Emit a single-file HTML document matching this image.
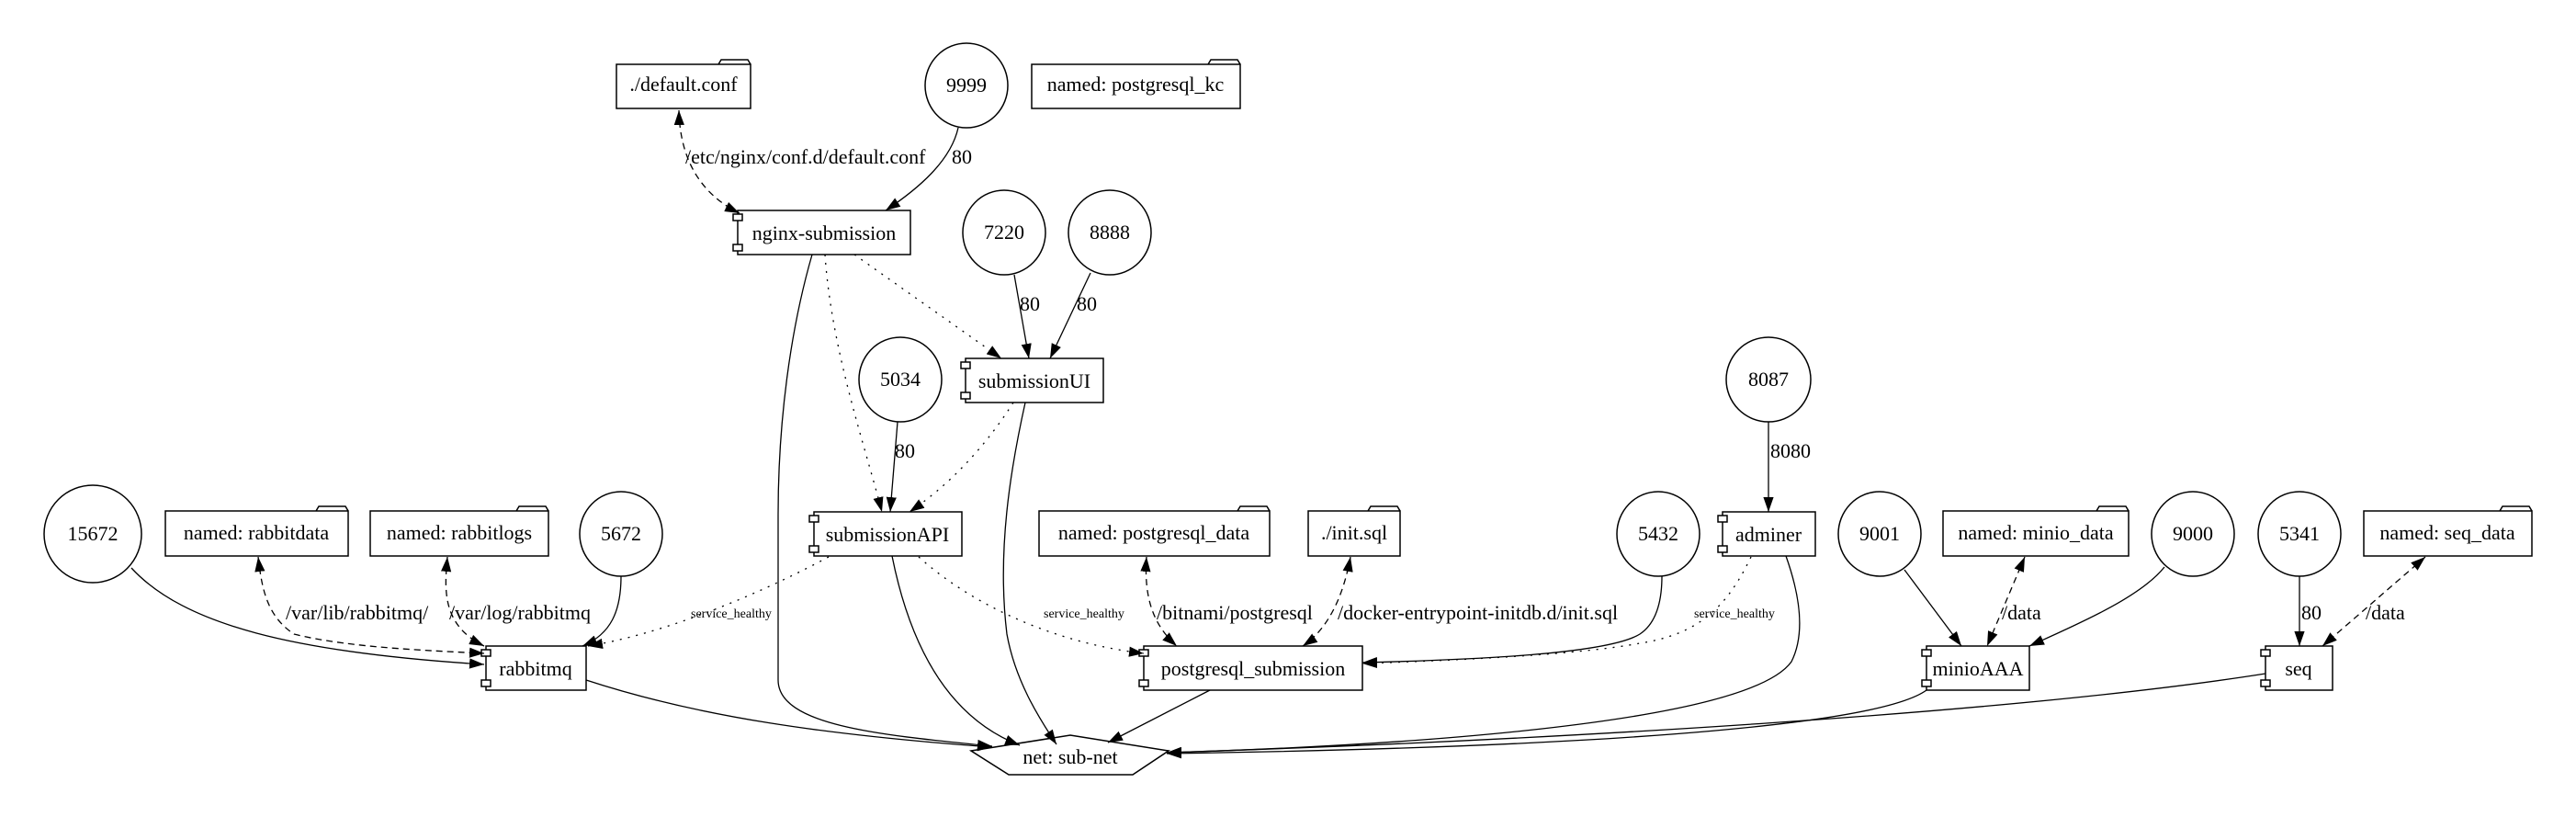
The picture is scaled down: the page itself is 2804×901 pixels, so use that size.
<!DOCTYPE html>
<html><head><meta charset="utf-8"><style>
html,body{margin:0;padding:0;background:#fff}
svg text{font-family:"Liberation Serif","Times New Roman",serif;font-size:22px;fill:#000}
svg .s{font-size:14px}
</style></head><body>
<svg width="2804" height="896" viewBox="0 0 2804 896" xmlns="http://www.w3.org/2000/svg" font-family="Liberation Serif, serif">
<defs>
<marker id="b" viewBox="0 0 10 10" refX="10" refY="5" markerWidth="16" markerHeight="16" markerUnits="userSpaceOnUse" orient="auto-start-reverse"><path d="M0,1.5 L10,5 L0,8.5 z" fill="#000"/></marker>
</defs>
<g fill="none" stroke="#000" stroke-width="1.5">
<ellipse cx="1052" cy="93" rx="45" ry="46"/>
<ellipse cx="1093" cy="253" rx="45" ry="46"/>
<ellipse cx="1208" cy="253" rx="45" ry="46"/>
<ellipse cx="980" cy="413" rx="45" ry="46"/>
<ellipse cx="101" cy="581" rx="53" ry="53"/>
<ellipse cx="676" cy="581" rx="45" ry="46"/>
<ellipse cx="1805" cy="581" rx="45" ry="46"/>
<ellipse cx="1925" cy="413" rx="46" ry="46"/>
<ellipse cx="2046" cy="581" rx="45" ry="46"/>
<ellipse cx="2387" cy="581" rx="45" ry="46"/>
<ellipse cx="2503" cy="581" rx="45" ry="46"/>
<path d="M671,70 H817 V118 H671 Z M782,70 L785,65 H814 L817,70"/>
<path d="M1123,70 H1350 V118 H1123 Z M1315,70 L1318,65 H1347 L1350,70"/>
<path d="M180,556 H379 V605 H180 Z M344,556 L347,551 H376 L379,556"/>
<path d="M403,556 H597 V605 H403 Z M562,556 L565,551 H594 L597,556"/>
<path d="M1131,556 H1382 V605 H1131 Z M1347,556 L1350,551 H1379 L1382,556"/>
<path d="M1424,556 H1524 V605 H1424 Z M1489,556 L1492,551 H1521 L1524,556"/>
<path d="M2115,556 H2317 V605 H2115 Z M2282,556 L2285,551 H2314 L2317,556"/>
<path d="M2573,556 H2756 V605 H2573 Z M2721,556 L2724,551 H2753 L2756,556"/>
<rect x="803" y="229" width="188" height="48"/><rect x="798" y="233" width="10" height="7" fill="#fff"/><rect x="798" y="266" width="10" height="7" fill="#fff"/>
<rect x="1051" y="390" width="150" height="48"/><rect x="1046" y="394" width="10" height="7" fill="#fff"/><rect x="1046" y="427" width="10" height="7" fill="#fff"/>
<rect x="886" y="557" width="161" height="48"/><rect x="881" y="561" width="10" height="7" fill="#fff"/><rect x="881" y="594" width="10" height="7" fill="#fff"/>
<rect x="529" y="703" width="109" height="48"/><rect x="524" y="707" width="10" height="7" fill="#fff"/><rect x="524" y="740" width="10" height="7" fill="#fff"/>
<rect x="1245" y="703" width="238" height="48"/><rect x="1240" y="707" width="10" height="7" fill="#fff"/><rect x="1240" y="740" width="10" height="7" fill="#fff"/>
<rect x="1875" y="557" width="101" height="48"/><rect x="1870" y="561" width="10" height="7" fill="#fff"/><rect x="1870" y="594" width="10" height="7" fill="#fff"/>
<rect x="2097" y="703" width="112" height="48"/><rect x="2092" y="707" width="10" height="7" fill="#fff"/><rect x="2092" y="740" width="10" height="7" fill="#fff"/>
<rect x="2466" y="703" width="73" height="48"/><rect x="2461" y="707" width="10" height="7" fill="#fff"/><rect x="2461" y="740" width="10" height="7" fill="#fff"/>
<path d="M1057,817 L1165,800 L1272,817 L1233,843 L1098,843 Z"/>
</g>
<g fill="none" stroke="#000" stroke-width="1.3">
<path d="M1043,139 C1035,175 1000,205 964,229" marker-end="url(#b)"/>
<path d="M1104,299 L1120,390" marker-end="url(#b)"/>
<path d="M1187,297 L1143,390" marker-end="url(#b)"/>
<path d="M977,459 L969,557" marker-end="url(#b)"/>
<path d="M1925,459 L1925,557" marker-end="url(#b)"/>
<path d="M884,277 C860,360 847,460 847,560 L847,740 C847,790 960,800 1080,812" marker-end="url(#b)"/>
<path d="M1116,438 C1100,510 1085,600 1096,690 C1105,740 1130,780 1150,810" marker-end="url(#b)"/>
<path d="M971,605 C990,700 1030,780 1110,811" marker-end="url(#b)"/>
<path d="M143,618 C200,680 320,710 527,723" marker-end="url(#b)"/>
<path d="M676,627 C676,665 665,690 634,703" marker-end="url(#b)"/>
<path d="M638,740 C760,780 900,800 1080,813" marker-end="url(#b)"/>
<path d="M1317,751 L1206,808" marker-end="url(#b)"/>
<path d="M1809,627 C1809,660 1800,680 1785,690 C1750,712 1600,718 1483,721" marker-end="url(#b)"/>
<path d="M1944,605 C1960,650 1965,690 1950,720 C1900,790 1500,812 1270,819" marker-end="url(#b)"/>
<path d="M2097,751 C2050,785 1800,812 1270,820" marker-end="url(#b)"/>
<path d="M2466,733 C2200,775 1700,805 1270,819" marker-end="url(#b)"/>
<path d="M2073,620 L2135,703" marker-end="url(#b)"/>
<path d="M2356,617 C2330,650 2260,680 2209,703" marker-end="url(#b)"/>
<path d="M2503,627 L2503,703" marker-end="url(#b)"/>
<g stroke-dasharray="7,5">
<path d="M739,120 C740,170 760,210 805,232" marker-start="url(#b)" marker-end="url(#b)"/>
<path d="M281,606 C285,640 290,670 320,690 C380,705 470,708 527,711" marker-start="url(#b)" marker-end="url(#b)"/>
<path d="M487,606 C484,640 480,680 527,703" marker-start="url(#b)" marker-end="url(#b)"/>
<path d="M1248,606 C1245,650 1255,680 1281,703" marker-start="url(#b)" marker-end="url(#b)"/>
<path d="M1470,606 C1462,650 1445,685 1418,703" marker-start="url(#b)" marker-end="url(#b)"/>
<path d="M2204,606 L2163,703" marker-start="url(#b)" marker-end="url(#b)"/>
<path d="M2640,606 L2528,703" marker-start="url(#b)" marker-end="url(#b)"/>
</g>
<g stroke-dasharray="2,7">
<path d="M930,277 L1090,390" marker-end="url(#b)"/>
<path d="M898,277 C905,380 940,480 960,557" marker-end="url(#b)"/>
<path d="M1103,438 C1070,490 1030,530 990,557" marker-end="url(#b)"/>
<path d="M902,606 C820,650 720,690 640,703" marker-end="url(#b)"/>
<path d="M1000,606 C1060,660 1150,700 1245,711" marker-end="url(#b)"/>
<path d="M1906,606 C1880,660 1850,690 1785,700 C1720,712 1600,718 1483,722" marker-end="url(#b)"/>
</g>
</g>
<g text-anchor="middle">
<text x="744" y="99">./default.conf</text>
<text x="1052" y="100">9999</text>
<text x="1236" y="99">named: postgresql_kc</text>
<text x="897" y="261">nginx-submission</text>
<text x="1093" y="260">7220</text>
<text x="1208" y="260">8888</text>
<text x="1126" y="422">submissionUI</text>
<text x="980" y="420">5034</text>
<text x="966" y="589">submissionAPI</text>
<text x="101" y="588">15672</text>
<text x="279" y="587">named: rabbitdata</text>
<text x="500" y="587">named: rabbitlogs</text>
<text x="676" y="588">5672</text>
<text x="583" y="735">rabbitmq</text>
<text x="1256" y="587">named: postgresql_data</text>
<text x="1474" y="587">./init.sql</text>
<text x="1805" y="588">5432</text>
<text x="1925" y="589">adminer</text>
<text x="1925" y="420">8087</text>
<text x="2046" y="588">9001</text>
<text x="2216" y="587">named: minio_data</text>
<text x="2387" y="588">9000</text>
<text x="2503" y="588">5341</text>
<text x="2664" y="587">named: seq_data</text>
<text x="1364" y="735">postgresql_submission</text>
<text x="2153" y="735">minioAAA</text>
<text x="2502" y="735">seq</text>
<text x="1165" y="831">net: sub-net</text>
</g>
<g>
<text x="746" y="178">/etc/nginx/conf.d/default.conf</text>
<text x="1036" y="178">80</text>
<text x="1110" y="338">80</text>
<text x="1172" y="338">80</text>
<text x="974" y="498">80</text>
<text x="1927" y="498">8080</text>
<text x="311" y="674">/var/lib/rabbitmq/</text>
<text x="489" y="674">/var/log/rabbitmq</text>
<text x="1259" y="674">/bitnami/postgresql</text>
<text x="1456" y="674">/docker-entrypoint-initdb.d/init.sql</text>
<text x="2179" y="674">/data</text>
<text x="2505" y="674">80</text>
<text x="2575" y="674">/data</text>
<text class="s" x="752" y="672">service_healthy</text>
<text class="s" x="1136" y="672">service_healthy</text>
<text class="s" x="1844" y="672">service_healthy</text>
</g>
</svg>
</body></html>
